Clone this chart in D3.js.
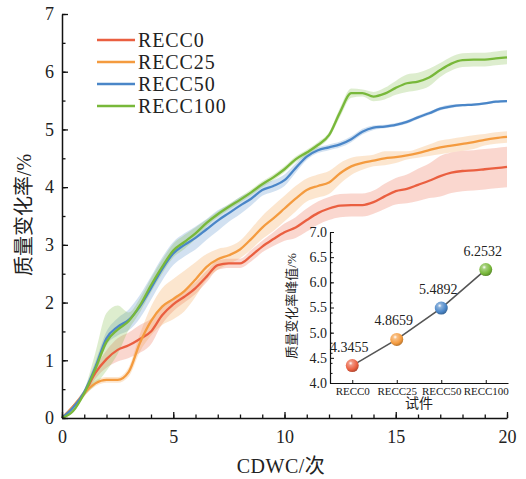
<!DOCTYPE html>
<html>
<head>
<meta charset="utf-8">
<script src="https://cdn.jsdelivr.net/npm/d3@7"></script>
<style>
  body { margin: 0; background: #fff; }
  text { font-family: "Liberation Serif", "Times New Roman", "Noto Sans CJK SC", serif; fill: #222; }
</style>
</head>
<body>
<div id="chart"></div>
<script>
// cycles (CDWC, 次)
const cycles = [0, 0.5, 1, 1.5, 2, 2.5, 3, 3.5, 4, 4.5, 5, 5.5, 6, 6.5, 7, 7.5, 8, 8.5, 9, 9.5,
  10, 10.5, 11, 11.5, 12, 12.5, 13, 13.5, 14, 14.5, 15, 15.5, 16, 16.5, 17, 17.5, 18, 18.5, 19, 19.5, 20];

const seriesNames = ['RECC0', 'RECC25', 'RECC50', 'RECC100'];
const seriesColors = ['#ea5f40', '#f49b3f', '#4a86c8', '#78b83a'];

// mean mass change rate (%)
const recc0 = [0, 0.2, 0.43, 0.78, 1.02, 1.18, 1.26, 1.37, 1.5, 1.78, 1.97, 2.1, 2.25, 2.45, 2.65, 2.68, 2.68, 2.81, 2.97, 3.1,
  3.22, 3.3, 3.43, 3.55, 3.63, 3.68, 3.69, 3.69, 3.74, 3.84, 3.93, 3.97, 4.04, 4.11, 4.19, 4.25, 4.28, 4.29, 4.31, 4.33, 4.35];
const recc25 = [0, 0.2, 0.43, 0.6, 0.66, 0.66, 0.8, 1.3, 1.68, 1.93, 2.06, 2.2, 2.4, 2.62, 2.75, 2.82, 2.92, 3.1, 3.3, 3.46,
  3.63, 3.8, 3.95, 4.02, 4.08, 4.24, 4.36, 4.42, 4.46, 4.5, 4.52, 4.55, 4.59, 4.64, 4.69, 4.72, 4.75, 4.78, 4.82, 4.85, 4.87];
const recc50 = [0, 0.18, 0.45, 0.88, 1.38, 1.58, 1.7, 1.93, 2.25, 2.58, 2.85, 3.0, 3.12, 3.27, 3.42, 3.55, 3.68, 3.8, 3.95, 4.02,
  4.12, 4.33, 4.53, 4.64, 4.69, 4.74, 4.83, 4.96, 5.03, 5.05, 5.08, 5.13, 5.21, 5.28, 5.36, 5.4, 5.42, 5.43, 5.45, 5.48, 5.49];
const recc100 = [0, 0.12, 0.43, 0.85, 1.32, 1.53, 1.68, 1.95, 2.3, 2.62, 2.9, 3.05, 3.2, 3.38, 3.53, 3.66, 3.78, 3.91, 4.05, 4.17,
  4.31, 4.48, 4.6, 4.73, 4.9, 5.3, 5.63, 5.63, 5.57, 5.62, 5.72, 5.8, 5.83, 5.9, 6.03, 6.14, 6.2, 6.21, 6.21, 6.23, 6.25];

// half width of the shaded band
const spread0 = [0, 0.03, 0.06, 0.1, 0.15, 0.2, 0.22, 0.24, 0.22, 0.15, 0.12, 0.1, 0.1, 0.1, 0.08, 0.08, 0.08, 0.1, 0.1, 0.12,
  0.15, 0.18, 0.2, 0.2, 0.2, 0.2, 0.2, 0.2, 0.2, 0.22, 0.23, 0.25, 0.28, 0.3, 0.35, 0.35, 0.35, 0.35, 0.35, 0.35, 0.35];
const spread25 = [0, 0.03, 0.05, 0.05, 0.05, 0.05, 0.08, 0.15, 0.25, 0.32, 0.35, 0.35, 0.3, 0.22, 0.18, 0.15, 0.15, 0.18, 0.2, 0.22,
  0.22, 0.22, 0.2, 0.2, 0.2, 0.18, 0.15, 0.12, 0.1, 0.12, 0.1, 0.07, 0.08, 0.1, 0.12, 0.12, 0.12, 0.12, 0.1, 0.1, 0.1];
const spread50 = [0, 0.03, 0.05, 0.1, 0.12, 0.15, 0.18, 0.2, 0.2, 0.2, 0.2, 0.2, 0.2, 0.18, 0.18, 0.15, 0.15, 0.12, 0.1, 0.1,
  0.1, 0.08, 0.06, 0.05, 0.05, 0.05, 0.05, 0.05, 0.04, 0.03, 0.03, 0.03, 0.03, 0.03, 0.03, 0.03, 0.02, 0.02, 0.02, 0.02, 0.02];
const spread100 = [0, 0.02, 0.05, 0.28, 0.5, 0.42, 0.15, 0.12, 0.12, 0.12, 0.12, 0.12, 0.1, 0.06, 0.05, 0.05, 0.05, 0.05, 0.05, 0.05,
  0.05, 0.05, 0.05, 0.05, 0.05, 0.08, 0.08, 0.06, 0.08, 0.1, 0.12, 0.15, 0.15, 0.15, 0.12, 0.12, 0.12, 0.12, 0.12, 0.12, 0.12];

// inset: peak values
const peakCategories = ['RECC0', 'RECC25', 'RECC50', 'RECC100'];
const peakValues = [4.3455, 4.8659, 5.4892, 6.2532];
const peakLabels = ['4.3455', '4.8659', '5.4892', '6.2532'];

const allMeans = [recc0, recc25, recc50, recc100];
const allSpreads = [spread0, spread25, spread50, spread100];

const width = 526, height = 479;
const svg = d3.select('#chart').append('svg')
  .attr('width', width).attr('height', height);

const x = d3.scaleLinear().domain([0, 20]).range([62, 507]);
const y = d3.scaleLinear().domain([0, 7]).range([418, 14]);

// bands + lines
const band = d3.area()
  .x(d => x(d.x)).y0(d => y(Math.max(0, d.v - d.s))).y1(d => y(d.v + d.s))
  .curve(d3.curveMonotoneX);
const line = d3.line().x(d => x(d.x)).y(d => y(d.v)).curve(d3.curveMonotoneX);

const series = seriesNames.map((name, i) => ({
  name,
  color: seriesColors[i],
  pts: cycles.map((c, j) => ({ x: c, v: allMeans[i][j], s: allSpreads[i][j] }))
}));

svg.append('g').selectAll('path').data(series).enter().append('path')
  .attr('d', d => band(d.pts))
  .attr('fill', d => d.color)
  .attr('fill-opacity', 0.25);

svg.append('g').selectAll('path').data(series).enter().append('path')
  .attr('d', d => line(d.pts))
  .attr('fill', 'none')
  .attr('stroke', d => d.color)
  .attr('stroke-width', 2.3);

// axes
function styleAxis(g) {
  g.select('.domain').attr('stroke', '#111').attr('stroke-width', 1.5);
  g.selectAll('.tick line').attr('stroke', '#111').attr('stroke-width', 1.3);
}

svg.append('g').attr('transform', 'translate(0,418)')
  .call(d3.axisBottom(x).ticks(20).tickSize(-3.5).tickFormat(''))
  .call(g => g.select('.domain').remove())
  .call(styleAxis);
svg.append('g').attr('transform', 'translate(0,418)')
  .call(d3.axisBottom(x).tickValues([0, 5, 10, 15, 20]).tickSizeInner(-6).tickSizeOuter(0).tickPadding(12))
  .call(styleAxis)
  .call(g => g.selectAll('text').attr('font-size', 18).attr('fill', '#222'));

svg.append('g').attr('transform', 'translate(62,0)')
  .call(d3.axisLeft(y).ticks(14).tickSize(-3.5).tickFormat(''))
  .call(g => g.select('.domain').remove())
  .call(styleAxis);
svg.append('g').attr('transform', 'translate(62,0)')
  .call(d3.axisLeft(y).ticks(7).tickSizeInner(-6).tickSizeOuter(0).tickPadding(8))
  .call(styleAxis)
  .call(g => g.selectAll('text').attr('font-size', 18).attr('fill', '#222'));

svg.append('text').attr('x', 281).attr('y', 473).attr('text-anchor', 'middle')
  .attr('font-size', 20).attr('letter-spacing', 0.5).text('CDWC/次');
svg.append('text').attr('transform', 'translate(31,215) rotate(-90)').attr('text-anchor', 'middle')
  .attr('font-size', 20).text('质量变化率/%');

// legend
const legend = svg.append('g').selectAll('g').data(series).enter().append('g')
  .attr('transform', (d, i) => `translate(97,${40 + i * 22})`);
legend.append('line').attr('x1', 0).attr('x2', 38).attr('y1', 0).attr('y2', 0)
  .attr('stroke', d => d.color).attr('stroke-width', 2.6);
legend.append('text').attr('x', 41).attr('dy', '0.35em').attr('font-size', 20)
  .attr('letter-spacing', 0.9).text(d => d.name);

// ---- inset ----
const xi = d3.scalePoint().domain(peakCategories).range([330, 508]).padding(0.5);
const yi = d3.scaleLinear().domain([4, 7]).range([383, 232]);
const inset = svg.append('g');

const defs = svg.append('defs');
seriesColors.forEach((c, i) => {
  const g = defs.append('radialGradient').attr('id', 'ball' + i)
    .attr('cx', '38%').attr('cy', '32%').attr('r', '70%');
  g.append('stop').attr('offset', '0%').attr('stop-color', '#fff');
  g.append('stop').attr('offset', '22%').attr('stop-color', d3.interpolateRgb(c, '#fff')(0.35));
  g.append('stop').attr('offset', '70%').attr('stop-color', c);
  g.append('stop').attr('offset', '100%').attr('stop-color', d3.color(c).darker(0.8));
});

inset.append('g').attr('transform', 'translate(0,383)')
  .call(d3.axisBottom(xi).tickSizeInner(-3).tickSizeOuter(0).tickPadding(4))
  .call(g => {
    g.select('.domain').attr('stroke', '#111').attr('stroke-width', 1.2);
    g.selectAll('.tick line').attr('stroke', '#111');
    g.selectAll('text').attr('font-size', 11).attr('fill', '#333');
  });
inset.append('g').attr('transform', 'translate(330,0)')
  .call(d3.axisLeft(yi).ticks(12).tickSize(-2.5).tickFormat(''))
  .call(g => g.select('.domain').remove())
  .call(g => g.selectAll('.tick line').attr('stroke', '#111'));
inset.append('g').attr('transform', 'translate(330,0)')
  .call(d3.axisLeft(yi).ticks(6).tickFormat(d3.format('.1f')).tickSizeInner(-4).tickSizeOuter(0).tickPadding(3))
  .call(g => {
    g.select('.domain').attr('stroke', '#111').attr('stroke-width', 1.2);
    g.selectAll('.tick line').attr('stroke', '#111');
    g.selectAll('text').attr('font-size', 14).attr('fill', '#333');
  });

inset.append('text').attr('x', 419).attr('y', 408).attr('text-anchor', 'middle')
  .attr('font-size', 14).text('试件');
inset.append('text').attr('transform', 'translate(296,306) rotate(-90)').attr('text-anchor', 'middle')
  .attr('font-size', 13).text('质量变化率峰值/%');

const peaks = peakCategories.map((c, i) => ({ c, v: peakValues[i], label: peakLabels[i], i }));
inset.append('path')
  .attr('d', d3.line().x(d => xi(d.c)).y(d => yi(d.v))(peaks))
  .attr('fill', 'none').attr('stroke', '#555').attr('stroke-width', 1.6);
inset.selectAll('circle').data(peaks).enter().append('circle')
  .attr('cx', d => xi(d.c)).attr('cy', d => yi(d.v)).attr('r', 6.5)
  .attr('fill', d => `url(#ball${d.i})`);
inset.selectAll('text.val').data(peaks).enter().append('text').attr('class', 'val')
  .attr('x', d => xi(d.c) - 3).attr('y', d => yi(d.v) - 14)
  .attr('text-anchor', 'middle').attr('font-size', 14).attr('fill', '#333')
  .text(d => d.label);
</script>
</body>
</html>
